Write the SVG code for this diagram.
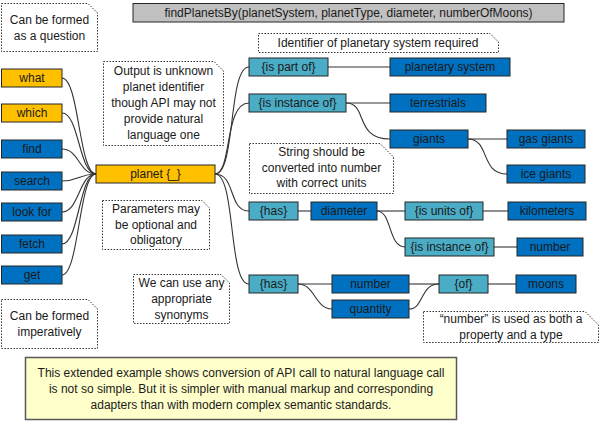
<svg xmlns="http://www.w3.org/2000/svg" width="601" height="421" viewBox="0 0 601 421">
<style>
text{font-family:"Liberation Sans",Arial,sans-serif;font-size:12px;fill:#1a1a1a;text-anchor:middle}
.b rect{stroke:#262626;stroke-width:1}
.db rect{fill:#0070C0}
.yl rect{fill:#FFC000}
.tl rect{fill:#4BACC6}
.co path{fill:#fff;stroke:#333;stroke-width:1;stroke-dasharray:1.5 1.5}
#connectors path{fill:none;stroke:#333;stroke-width:1.1}
</style>
<rect width="601" height="421" fill="#fff"/>
<g id="connectors">
<path d="M62,78 C79,78 79,174 96,174"/>
<path d="M62,113 C79,113 79,174 96,174"/>
<path d="M62,149 C79,149 79,174 96,174"/>
<path d="M62,181 C79,181 79,174 96,174"/>
<path d="M62,212 C79,212 79,174 96,174"/>
<path d="M62,244 C79,244 79,174 96,174"/>
<path d="M62,275 C79,275 79,174 96,174"/>
<path d="M215,174 C236,174 228,67 249,67"/>
<path d="M215,174 C232,174 224,103 249,103"/>
<path d="M215,174 C236,174 228,211 249,211"/>
<path d="M215,174 C236,174 228,284 249,284"/>
<path d="M328,67 L390,67"/>
<path d="M346,103 L390,103"/>
<path d="M346,103 C368,103 354,139 390,139"/>
<path d="M468,139 L507,139"/>
<path d="M468,139 C490,139 480,174 507,174"/>
<path d="M298,211 L311,211"/>
<path d="M377,211 L405,211"/>
<path d="M377,211 C392,211 388,247 405,247"/>
<path d="M483,211 L508,211"/>
<path d="M494,247 L517,247"/>
<path d="M298,284 L332,284"/>
<path d="M298,284 C315,284 315,309 332,309"/>
<path d="M409,284 L439,284"/>
<path d="M409,309 C424,309 420,284 439,284"/>
<path d="M488,284 L516,284"/>
</g>
<g id="title" class="b"><rect x="133" y="3.5" width="431" height="18.5" fill="#C0C0C0"/><text x="348.5" y="17">findPlanetsBy(planetSystem, planetType, diameter, numberOfMoons)</text></g>
<g id="what" class="b yl"><rect x="1.5" y="69" width="60.5" height="18"/><text x="32" y="82">what</text></g>
<g id="which" class="b yl"><rect x="1.5" y="104" width="60.5" height="18"/><text x="32" y="117">which</text></g>
<g id="find" class="b db"><rect x="1.5" y="140" width="60.5" height="18"/><text x="32" y="153">find</text></g>
<g id="search" class="b db"><rect x="1.5" y="172" width="60.5" height="18"/><text x="32" y="185">search</text></g>
<g id="lookfor" class="b db"><rect x="1.5" y="203" width="60.5" height="18"/><text x="32" y="216">look for</text></g>
<g id="fetch" class="b db"><rect x="1.5" y="235" width="60.5" height="18"/><text x="32" y="248">fetch</text></g>
<g id="get" class="b db"><rect x="1.5" y="266" width="60.5" height="18"/><text x="32" y="279">get</text></g>
<g id="planet" class="b yl"><rect x="96" y="165" width="119" height="18"/><text x="155.5" y="178">planet {_}</text></g>
<g id="ispartof" class="b tl"><rect x="249" y="58" width="79" height="18"/><text x="288.5" y="71">{is part of}</text></g>
<g id="isinstanceof1" class="b tl"><rect x="249" y="94" width="97" height="18"/><text x="297.5" y="107">{is instance of}</text></g>
<g id="planetarysystem" class="b db"><rect x="390" y="58" width="120" height="18"/><text x="450" y="71">planetary system</text></g>
<g id="terrestrials" class="b db"><rect x="390" y="94" width="96" height="18"/><text x="438" y="107">terrestrials</text></g>
<g id="giants" class="b db"><rect x="390" y="130" width="78" height="18"/><text x="429" y="143">giants</text></g>
<g id="gasgiants" class="b db"><rect x="507" y="130" width="78" height="18"/><text x="546" y="143">gas giants</text></g>
<g id="icegiants" class="b db"><rect x="507" y="165" width="78" height="18"/><text x="546" y="178">ice giants</text></g>
<g id="has1" class="b tl"><rect x="249" y="202" width="49" height="18"/><text x="273.5" y="215">{has}</text></g>
<g id="diameter" class="b db"><rect x="311" y="202" width="66" height="18"/><text x="344" y="215">diameter</text></g>
<g id="isunitsof" class="b tl"><rect x="405" y="202" width="78" height="18"/><text x="444" y="215">{is units of}</text></g>
<g id="kilometers" class="b db"><rect x="508" y="202" width="78" height="18"/><text x="547" y="215">kilometers</text></g>
<g id="isinstanceof2" class="b tl"><rect x="405" y="238" width="89" height="18"/><text x="449.5" y="251">{is instance of}</text></g>
<g id="numbertype" class="b db"><rect x="517" y="238" width="66" height="18"/><text x="550" y="251">number</text></g>
<g id="has2" class="b tl"><rect x="249" y="275" width="49" height="18"/><text x="273.5" y="288">{has}</text></g>
<g id="number" class="b db"><rect x="332" y="275" width="77" height="18"/><text x="370.5" y="288">number</text></g>
<g id="quantity" class="b db"><rect x="332" y="300" width="77" height="18"/><text x="370.5" y="313">quantity</text></g>
<g id="of" class="b tl"><rect x="439" y="275" width="49" height="18"/><text x="463.5" y="288">{of}</text></g>
<g id="moons" class="b db"><rect x="516" y="275" width="60" height="18"/><text x="546" y="288">moons</text></g>
<g id="note-question" class="co"><path d="M1.5,3.5 H88 L97.5,13 V51.5 H1.5 Z"/><text x="49.5" y="24">Can be formed</text><text x="49.5" y="40">as a question</text></g>
<g id="note-identifier" class="co"><path d="M258.5,33.5 H490 L498.5,42 V52.5 H258.5 Z"/><text x="378" y="46.5">Identifier of planetary system required</text></g>
<g id="note-output" class="co"><path d="M103.5,61.5 H214 L223.5,71 V145.5 H103.5 Z"/><text x="163.5" y="75">Output is unknown</text><text x="163.5" y="91">planet identifier</text><text x="163.5" y="107">though API may not</text><text x="163.5" y="123">provide natural</text><text x="163.5" y="139">language one</text></g>
<g id="note-string" class="co"><path d="M249.5,143.5 H380 L393.5,157 V193.5 H249.5 Z"/><text x="321.5" y="156">String should be</text><text x="321.5" y="172">converted into number</text><text x="321.5" y="187">with correct units</text></g>
<g id="note-parameters" class="co"><path d="M102.5,200.5 H202 L209.5,208 V249.5 H102.5 Z"/><text x="156" y="213">Parameters may</text><text x="156" y="229">be optional and</text><text x="156" y="244">obligatory</text></g>
<g id="note-synonyms" class="co"><path d="M133.5,274.5 H221 L229.5,283 V323.5 H133.5 Z"/><text x="181.5" y="287">We can use any</text><text x="181.5" y="303">appropriate</text><text x="181.5" y="319">synonyms</text></g>
<g id="note-imperative" class="co"><path d="M1.5,299.5 H88 L97.5,309 V348.5 H1.5 Z"/><text x="49.5" y="320">Can be formed</text><text x="49.5" y="336">imperatively</text></g>
<g id="note-number" class="co"><path d="M423.5,311.5 H585 L598.5,325 V342.5 H423.5 Z"/><text x="511" y="323">“number” is used as both a</text><text x="511" y="339">property and a type</text></g>
<g id="note-summary"><rect x="25.5" y="357.5" width="431" height="62" fill="#FFFFCC" stroke="#595959" stroke-width="1.5"/><text x="241" y="377">This extended example shows conversion of API call to natural language call</text><text x="241" y="393">is not so simple. But it is simpler with manual markup and corresponding</text><text x="241" y="409">adapters than with modern complex semantic standards.</text></g>
</svg>
